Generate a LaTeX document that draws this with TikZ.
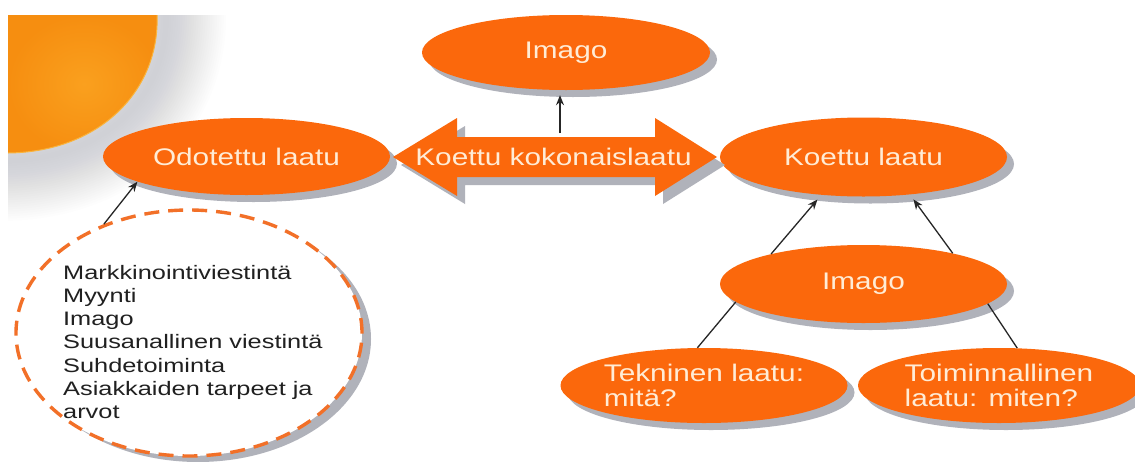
\documentclass[tikz,border=0pt]{standalone}
\usepackage{fontspec}
\setmainfont{Liberation Sans}
\newfontfamily\labelfont[FakeStretch=1.24]{Liberation Sans}
\newfontfamily\listfont[FakeStretch=1.3]{Liberation Sans}
\usetikzlibrary{shapes.geometric,shadows,arrows.meta}

\definecolor{nodeorange}{RGB}{251,104,12}
\definecolor{labelcream}{RGB}{255,236,214}
\definecolor{shadowgray}{RGB}{176,178,186}
\definecolor{halogray}{RGB}{150,152,162}
\definecolor{dashorange}{RGB}{242,112,40}
\definecolor{fruitlight}{RGB}{250,160,30}
\definecolor{fruitorange}{RGB}{246,142,16}
\definecolor{fruitrim}{RGB}{250,180,60}
\definecolor{listink}{RGB}{32,32,32}

\tikzset{
  dropgray/.style={general shadow={fill=shadowgray, shadow xshift=7pt, shadow yshift=-7pt}},
  bubble/.style={ellipse, fill=nodeorange, inner sep=0pt, text=labelcream,
    font=\labelfont\fontsize{24}{25}\selectfont, dropgray},
  link/.style={draw=black!85, line width=1.3pt},
  feed/.style={link, -{Stealth[length=10pt,width=8pt]}},
}

\begin{document}
\begin{tikzpicture}[x=1pt,y=-1pt]
\useasboundingbox (0,0) rectangle (1135,461);
\fill[white] (0,0) rectangle (1135,461);

% orange corner decoration with its soft gray halo
\begin{scope}
  \clip (8,15) rectangle (1135,461);
  \foreach \i in {1,...,26}{
    \draw[halogray, line width=\i*4.6pt, opacity=0.014]
      (166,8) .. controls (170,94) and (108,160) .. (2,161);
  }
  \shade[inner color=fruitlight, outer color=fruitorange]
    (8,15) -- (157,15) .. controls (160,90) and (100,152) .. (8,153) -- cycle;
  \draw[fruitrim, line width=1pt] (157,15) .. controls (160,90) and (100,152) .. (8,153);
\end{scope}

% main quality nodes
\node[bubble, minimum width=288pt, minimum height=75pt]  (imagoTop) at (566,52.5) {Imago};
\node[bubble, minimum width=287pt, minimum height=77pt]  (odotettu) at (246.5,156.5) {Odotettu laatu};
\node[bubble, minimum width=287pt, minimum height=79pt]  (koettu)   at (863.5,157) {Koettu laatu};
\node[bubble, minimum width=287pt, minimum height=78pt]  (imagoMid) at (863.5,284) {Imago};
\node[bubble, minimum width=287pt, minimum height=75pt, align=left] (tekn) at (704,385.5) {Tekninen laatu:\\mitä?};
\node[bubble, minimum width=282pt, minimum height=75pt, align=left] (toim) at (999,385.5) {Toiminnallinen\\laatu: miten?};

% two-headed arrow for the overall quality
\fill[nodeorange, general shadow={fill=shadowgray, shadow xshift=8pt, shadow yshift=-8pt}]
  (393,157) -- (457,118) -- (457,137) -- (655,137) -- (655,118) -- (717,157)
  -- (655,196) -- (655,177) -- (457,177) -- (457,196) -- cycle;
\node[text=labelcream, font=\labelfont\fontsize{24}{25}\selectfont, inner sep=0pt]
  (total) at (553.5,157) {Koettu kokonaislaatu};
\coordinate (shaftTop) at (560,133);

% dashed bubble listing the sources of expectations
\node[ellipse, draw=dashorange, line width=3.4pt, dash pattern=on 15pt off 9pt,
  fill=white, minimum width=346pt, minimum height=246pt, inner sep=0pt,
  general shadow={fill=shadowgray, shadow xshift=9pt, shadow yshift=-6pt}] (list) at (189,333) {};
\node[text=listink, font=\listfont\fontsize{19.5}{23.3}\selectfont, align=left, inner sep=0pt, anchor=west]
  (listText) at (63,342) {Markkinointiviestintä\\Myynti\\Imago\\Suusanallinen viestintä\\Suhdetoiminta\\Asiakkaiden tarpeet ja\\arvot};

% connectors
\draw[feed, shorten >=5pt] (shaftTop) -- (shaftTop |- imagoTop.south);
\draw[feed] (list.128) -- (odotettu.193);
\draw[feed, shorten >=6pt] (imagoMid.162) -- (koettu.222);
\draw[feed, shorten >=6pt] (imagoMid.19) -- (koettu.321);
\draw[link] (tekn.100) -- (imagoMid.188);
\draw[link] (toim.64) -- (imagoMid.351);
\end{tikzpicture}
\end{document}
